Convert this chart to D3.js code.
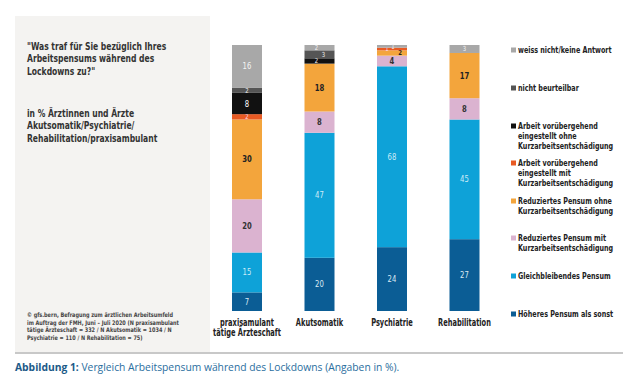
<!DOCTYPE html>
<html>
<head>
<meta charset="utf-8">
<script src="https://cdn.jsdelivr.net/npm/d3@7"></script>
<style>
  body { margin: 0; background: #fff; }
  svg { display: block; }
  .cond { font-family: "DejaVu Sans Condensed", "DejaVu Sans", sans-serif; font-stretch: condensed; }
</style>
</head>
<body>
<svg width="640" height="391"></svg>
<script>
var categories = ["praxisamulant|tätige Ärzteschaft", "Akutsomatik", "Psychiatrie", "Rehabilitation"];

// Werte von unten nach oben
var hoeher     = [7, 20, 24, 27];
var gleich     = [15, 47, 68, 45];
var redMit     = [20, 8, 4, 8];
var redOhne    = [30, 18, 2, 17];
var arbMit     = [2, 0, 1, 0];
var arbOhne    = [8, 2, 0, 0];
var nichtBeurt = [2, 3, 0, 0];
var weissNicht = [16, 2, 1, 3];

var seriesNames = [
    "Höheres Pensum als sonst",
    "Gleichbleibendes Pensum",
    "Reduziertes Pensum mit|Kurzarbeitsentschädigung",
    "Reduziertes Pensum ohne|Kurzarbeitsentschädigung",
    "Arbeit vorübergehend|eingestellt mit|Kurzarbeitsentschädigung",
    "Arbeit vorübergehend|eingestellt ohne|Kurzarbeitsentschädigung",
    "nicht beurteilbar",
    "weiss nicht/keine Antwort"
];
var seriesValues = [hoeher, gleich, redMit, redOhne, arbMit, arbOhne, nichtBeurt, weissNicht];
var colors = ["#0b5d95", "#0ea2d8", "#dbb3d0", "#f3a53c", "#e85a23", "#111111", "#555555", "#a8a8a8"];
var labelColors = ["#dbe9f3", "#cdebf7", "#333", "#222", "#fde", "#fff", "#eee", "#f4f4f4"];
// kleine Verschiebungen der Beschriftung bei sehr schmalen Segmenten
var labelDx = {
    "4|Psychiatrie": -5, "3|Psychiatrie": 8, "7|Psychiatrie": 1,
    "7|Akutsomatik": -3, "6|Akutsomatik": 4, "5|Akutsomatik": -3
};

var svg = d3.select('svg');

// schmale Schrift: horizontal gestauchter Text
function condText(parent, x0, y0, sx, lines, lh) {
    var t = parent.append("text").attr("class", "cond")
        .attr("transform", "translate(" + x0 + "," + y0 + ") scale(" + sx + ",1)");
    lines.forEach(function(l, i) {
        t.append("tspan").attr("x", 0).attr("dy", i ? lh : 0).text(l);
    });
    return t;
}

// linkes Panel
svg.append("rect").attr("x", 15).attr("y", 16).attr("width", 195).attr("height", 336)
    .attr("fill", "#f4f3f1");
svg.append("line").attr("x1", 15).attr("x2", 623).attr("y1", 353).attr("y2", 353)
    .attr("stroke", "#c8c8c8").attr("stroke-width", 2);

condText(svg, 27, 50, 0.77, ["\"Was traf für Sie bezüglich Ihres", "Arbeitspensums während des", "Lockdowns zu?\""], 12.5)
    .attr("font-size", 11).attr("font-weight", 700).attr("fill", "#333");
condText(svg, 27, 117, 0.77, ["in % Ärztinnen und Ärzte", "Akutsomatik/Psychiatrie/", "Rehabilitation/praxisambulant"], 12.5)
    .attr("font-size", 11).attr("font-weight", 700).attr("fill", "#333");
condText(svg, 27, 317, 0.87, ["© gfs.bern, Befragung zum ärztlichen Arbeitsumfeld",
 "im Auftrag der FMH, Juni – Juli 2020 (N praxisambulant",
 "tätige Ärzteschaft = 332 / N Akutsomatik = 1034 / N",
 "Psychiatrie = 110 / N Rehabilitation = 75)"], 7.6)
    .attr("font-size", 6.3).attr("font-weight", 700).attr("fill", "#444");

// Skalen
var x = d3.scalePoint().domain(categories).range([247, 464.5]);
var y = d3.scaleLinear().domain([0, 100]).range([311, 45]);
var barW = 30;

var table = categories.map(function(c, i) {
    var row = { cat: c };
    seriesNames.forEach(function(s, j) { row[s] = seriesValues[j][i]; });
    return row;
});
var stacked = d3.stack().keys(seriesNames)(table);

var groups = svg.append("g").selectAll("g")
    .data(stacked)
    .enter()
    .append("g")
    .attr("fill", function(d, i) { return colors[i]; });

groups.selectAll("rect")
    .data(function(d) { return d; })
    .enter()
    .append("rect")
    .attr("x", function(d) { return x(d.data.cat) - barW / 2; })
    .attr("width", barW)
    .attr("y", function(d) { return y(d[1]); })
    .attr("height", function(d) { return y(d[0]) - y(d[1]); });

groups.each(function(s, i) {
    var g = d3.select(this);
    s.forEach(function(d) {
        var v = d[1] - d[0];
        if (v <= 0) return;
        var dx = labelDx[i + "|" + d.data.cat] || 0;
        var small = y(d[0]) - y(d[1]) < 9;
        condText(g, x(d.data.cat) + dx, (y(d[0]) + y(d[1])) / 2 + (small ? 2.3 : 3), 0.85, [String(v)], 0)
            .attr("text-anchor", "middle")
            .attr("font-size", small ? 7 : 9)
            .attr("font-weight", i == 2 || i == 3 ? 700 : 400)
            .attr("fill", labelColors[i]);
    });
});

// Kategorien
categories.forEach(function(c) {
    condText(svg, x(c), 326, 0.74, c.split("|"), 10.5)
        .attr("text-anchor", "middle")
        .attr("font-size", 10)
        .attr("font-weight", 700)
        .attr("fill", "#222");
});

// Legende
var legendY = [317, 279, 241, 204, 166, 129, 91, 53];
var legend = svg.append("g").selectAll("g")
    .data(seriesNames)
    .enter()
    .append("g")
    .attr("transform", function(d, i) { return "translate(511," + legendY[i] + ")"; });
legend.append("rect").attr("x", 0).attr("y", -5.5).attr("width", 5).attr("height", 5)
    .attr("fill", function(d, i) { return colors[i]; });
legend.each(function(d) {
    condText(d3.select(this), 7, 0, 0.79, d.split("|"), 10)
        .attr("font-size", 9)
        .attr("font-weight", 700)
        .attr("fill", "#222");
});

// Bildunterschrift
var cap = svg.append("text").attr("x", 15).attr("y", 371)
    .attr("font-family", "'Open Sans', sans-serif").attr("font-size", 10.3).attr("fill", "#2a6e9e");
cap.append("tspan").attr("font-weight", 700).attr("fill", "#1d5a88").text("Abbildung 1:");
cap.append("tspan").text(" Vergleich Arbeitspensum während des Lockdowns (Angaben in %).");
</script>
</body>
</html>
